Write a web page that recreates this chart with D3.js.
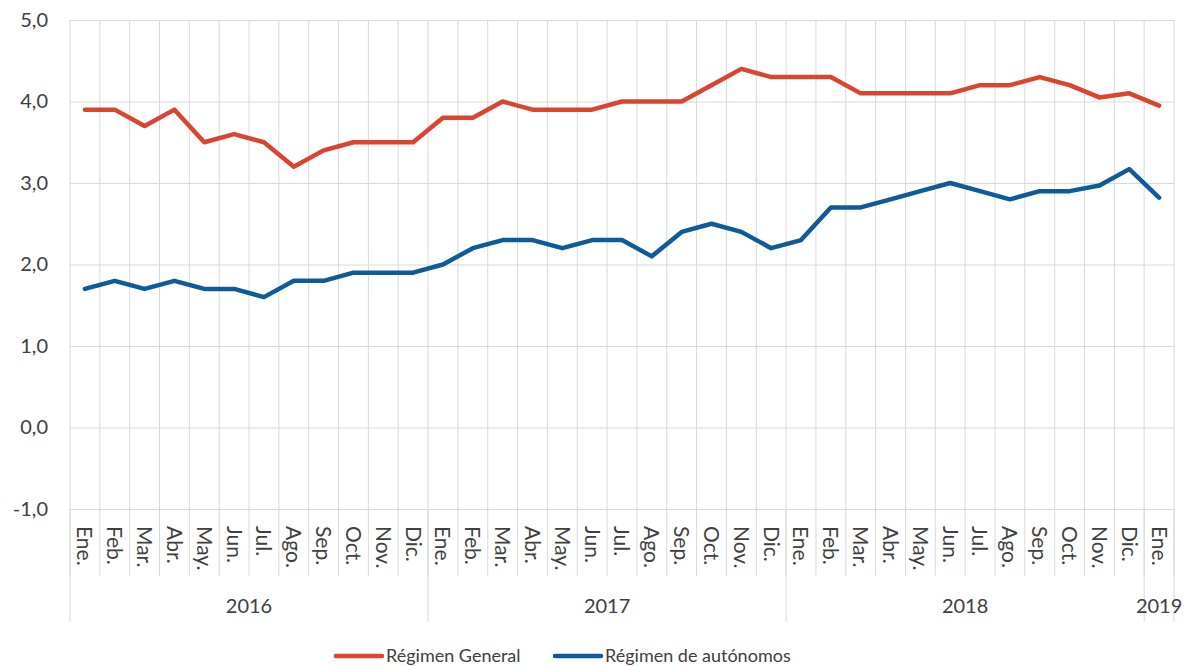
<!DOCTYPE html>
<html>
<head>
<meta charset="utf-8">
<script src="https://cdn.jsdelivr.net/npm/d3@7"></script>
<style>
  html, body { margin: 0; padding: 0; background: #fff; }
  svg { display: block; }
  text { font-family: Lato, "Open Sans", sans-serif; fill: #404040; }
</style>
</head>
<body>
<svg id="chart" width="1191" height="666"></svg>
<script>
const months = ["Ene.","Feb.","Mar.","Abr.","May.","Jun.","Jul.","Ago.","Sep.","Oct.","Nov.","Dic.",
                "Ene.","Feb.","Mar.","Abr.","May.","Jun.","Jul.","Ago.","Sep.","Oct.","Nov.","Dic.",
                "Ene.","Feb.","Mar.","Abr.","May.","Jun.","Jul.","Ago.","Sep.","Oct.","Nov.","Dic.",
                "Ene."];
const years = ["2016","2017","2018","2019"];
const yearCounts = [12, 12, 12, 1];
const general = [3.9,3.9,3.7,3.9,3.5,3.6,3.5,3.2,3.4,3.5,3.5,3.5,
                 3.8,3.8,4.0,3.9,3.9,3.9,4.0,4.0,4.0,4.2,4.4,4.3,
                 4.3,4.3,4.1,4.1,4.1,4.1,4.2,4.2,4.3,4.2,4.05,4.1,
                 3.95];
const autonomos = [1.7,1.8,1.7,1.8,1.7,1.7,1.6,1.8,1.8,1.9,1.9,1.9,
                   2.0,2.2,2.3,2.3,2.2,2.3,2.3,2.1,2.4,2.5,2.4,2.2,
                   2.3,2.7,2.7,2.8,2.9,3.0,2.9,2.8,2.9,2.9,2.97,3.17,
                   2.82];
const yTicks = [-1,0,1,2,3,4,5];
const seriesNames = ["Régimen General","Régimen de autónomos"];
const seriesColors = ["#DB4430","#0E5A9B"];

(function () {
const svg = d3.select("#chart");
const pL = 70, pR = 1174, pT = 20, pB = 509;
const idx = d3.range(months.length);
const x = d3.scaleBand().domain(idx).range([pL, pR]).padding(0);
const y = d3.scaleLinear().domain([-1, 5]).range([pB, pT]);
const loc = d3.formatLocale({decimal: ",", thousands: ".", grouping: [3], currency: ["", "€"], minus: "-"});
const fmt = loc.format(".1f");
const grid = "#d9d9d9";

// horizontal gridlines
const yg = svg.append("g").attr("transform", `translate(${pL},0)`)
  .call(d3.axisLeft(y).tickValues(yTicks).tickSize(-(pR - pL)).tickFormat(""));
yg.select(".domain").remove();
yg.selectAll("line").attr("stroke", grid).attr("stroke-width", 1);

// y labels
const yl = svg.append("g").attr("transform", `translate(${pL},0)`)
  .call(d3.axisLeft(y).tickValues(yTicks).tickSize(0).tickPadding(22).tickFormat(fmt));
yl.select(".domain").remove();
yl.selectAll("text").style("font-size", "20px").attr("fill", "#404040");

// vertical gridlines (month boundaries)
const bounds = idx.map(i => x(i)).concat([pR]);
svg.append("g").selectAll("line").data(bounds).join("line")
  .attr("x1", d => d).attr("x2", d => d)
  .attr("y1", pT).attr("y2", 576)
  .attr("stroke", grid).attr("stroke-width", 1);

// year boundaries
let acc = 0;
const yearStarts = yearCounts.map(c => { const s = acc; acc += c; return s; });
const yearBounds = yearStarts.map(s => x(s)).concat([pR]);
svg.append("g").selectAll("line").data(yearBounds).join("line")
  .attr("x1", d => d).attr("x2", d => d)
  .attr("y1", pB).attr("y2", 622)
  .attr("stroke", grid).attr("stroke-width", 1);

// month labels
const xa = svg.append("g").attr("transform", `translate(0,${pB})`)
  .call(d3.axisBottom(x).tickSize(0).tickFormat(i => months[i]));
xa.select(".domain").remove();
xa.selectAll("text")
  .attr("transform", "rotate(90)")
  .attr("x", 17).attr("y", 0).attr("dy", "0.36em")
  .attr("text-anchor", "start")
  .attr("fill", "#404040")
  .style("font-size", "21px");

// year labels
svg.append("g").selectAll("text").data(years).join("text")
  .attr("x", (d, i) => x(yearStarts[i]) + yearCounts[i] * x.bandwidth() / 2)
  .attr("y", 613)
  .attr("text-anchor", "middle")
  .style("font-size", "20px")
  .text(d => d);

// lines
const line = d3.line().x((d, i) => x(i) + x.bandwidth() / 2).y(d => y(d));
[general, autonomos].forEach((s, k) => {
  svg.append("path").datum(s)
    .attr("d", line)
    .attr("fill", "none")
    .attr("stroke", seriesColors[k])
    .attr("stroke-width", 4.5)
    .attr("stroke-linejoin", "round")
    .attr("stroke-linecap", "round");
});

// legend
const legendX = [336, 555];
const lg = svg.append("g");
seriesNames.forEach((n, k) => {
  lg.append("line")
    .attr("x1", legendX[k]).attr("x2", legendX[k] + 46)
    .attr("y1", 656).attr("y2", 656)
    .attr("stroke", seriesColors[k]).attr("stroke-width", 4.5)
    .attr("stroke-linecap", "round");
  lg.append("text")
    .attr("x", legendX[k] + 50).attr("y", 656).attr("dy", "0.35em")
    .style("font-size", "18px")
    .text(n);
});
})();
</script>
</body>
</html>
